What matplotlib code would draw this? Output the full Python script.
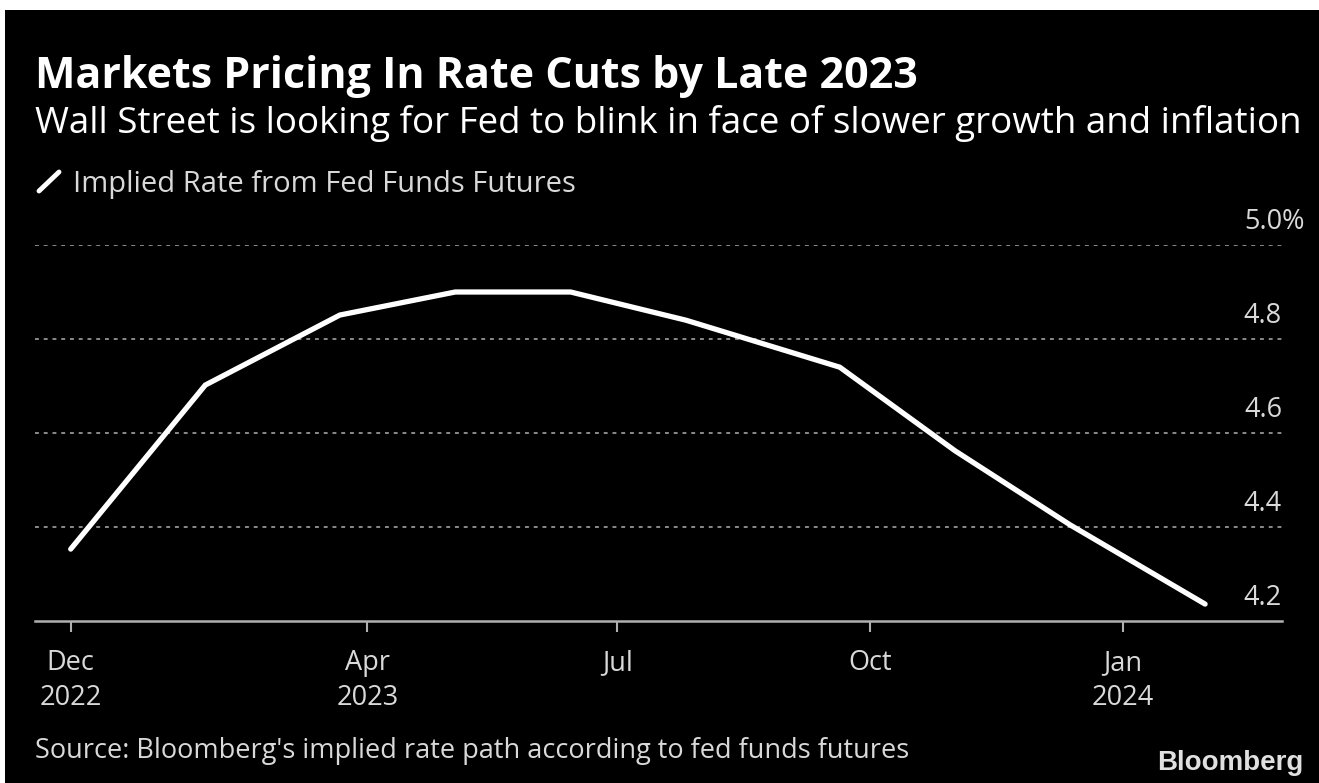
import matplotlib
matplotlib.use("Agg")
import matplotlib.pyplot as plt
import matplotlib.transforms as mtransforms
from matplotlib.patches import Rectangle
from matplotlib.lines import Line2D
import pandas as pd

# FOMC meeting dates and implied rate (%)
dates = pd.to_datetime([
    "2022-12-14", "2023-02-01", "2023-03-22", "2023-05-03", "2023-06-14",
    "2023-07-26", "2023-09-20", "2023-11-01", "2023-12-13", "2024-01-31",
])
implied_rate = [4.353, 4.702, 4.851, 4.900, 4.900, 4.840, 4.740, 4.562, 4.404, 4.236]

tick_dates = pd.to_datetime(["2022-12-14", "2023-04-01", "2023-07-01", "2023-10-01", "2024-01-01"])
tick_labels = ["Dec\n2022", "Apr\n2023", "Jul", "Oct", "Jan\n2024"]
y_ticks = [4.2, 4.4, 4.6, 4.8, 5.0]

W, H = 1319, 783
FONT = "Open Sans"
BG = "black"
TXT = "#d9d9d9"

fig = plt.figure(figsize=(W / 100, H / 100), dpi=100, facecolor="white")
fig.patches.append(Rectangle((5 / W, 0), 1 - 5 / W, 1 - 10 / H, transform=fig.transFigure,
                             facecolor=BG, edgecolor="none", zorder=-10))


def px(x, y):
    return x / W, 1 - y / H


ax = fig.add_axes([35 / W, (H - 621) / H, (1282 - 35) / W, (621 - 245) / H])
ax.set_facecolor(BG)
ax.plot(dates, implied_rate, color="white", linewidth=3.8, solid_capstyle="round",
        solid_joinstyle="miter", clip_on=False, zorder=3)

ax.set_xlim(pd.Timestamp("2022-12-01"), pd.Timestamp("2024-02-28"))
ax.set_ylim(4.2, 5.0)

for s in ["top", "right", "left"]:
    ax.spines[s].set_visible(False)
ax.spines["bottom"].set_color("#b0b0b0")
ax.spines["bottom"].set_linewidth(1.8)

ax.set_xticks(tick_dates)
ax.set_xticklabels(tick_labels, fontsize=19.5, color=TXT, family=FONT, linespacing=1.35)
ax.tick_params(axis="x", length=8, width=1.5, color="#b0b0b0", pad=12)
ax.set_yticks([])

for v in y_ticks[1:]:
    ax.axhline(v, color="#8a8a8a", linewidth=1.4, linestyle=(0, (2, 2.5)), zorder=1)

# y labels sit just above their gridlines on the right
ylab_tr = mtransforms.blended_transform_factory(ax.transAxes, ax.transData) + \
    mtransforms.ScaledTranslation(0, 16 / 100, fig.dpi_scale_trans)
for v in y_ticks:
    ax.text(1.0, v, f"{v:.1f}", transform=ylab_tr, ha="right", va="baseline",
            fontsize=19.5, color=TXT, family=FONT)
ax.text(1.0, y_ticks[-1], "%", transform=ylab_tr, ha="left", va="baseline",
        fontsize=19.5, color=TXT, family=FONT)

fig.text(*px(35, 88), "Markets Pricing In Rate Cuts by Late 2023", fontsize=31, fontweight="bold",
         color="white", family=FONT, va="baseline")
fig.text(*px(35, 133), "Wall Street is looking for Fed to blink in face of slower growth and inflation",
         fontsize=26.5, color="white", family=FONT, va="baseline")

fig.lines.append(Line2D([39 / W, 59 / W], [1 - 191 / H, 1 - 172 / H], transform=fig.transFigure,
                        color="white", linewidth=3.5, solid_capstyle="round"))
fig.text(*px(73, 192), "Implied Rate from Fed Funds Futures", fontsize=21, color=TXT,
         family=FONT, va="baseline")

fig.text(*px(35, 758), "Source: Bloomberg's implied rate path according to fed funds futures",
         fontsize=19.5, color=TXT, family=FONT, va="baseline")
fig.text(*px(1303, 770), "Bloomberg", fontsize=20, fontweight="bold", color="#e0e0e0",
         family="Liberation Sans", va="baseline", ha="right")

fig.savefig("out.png", dpi=100, facecolor=fig.get_facecolor())
